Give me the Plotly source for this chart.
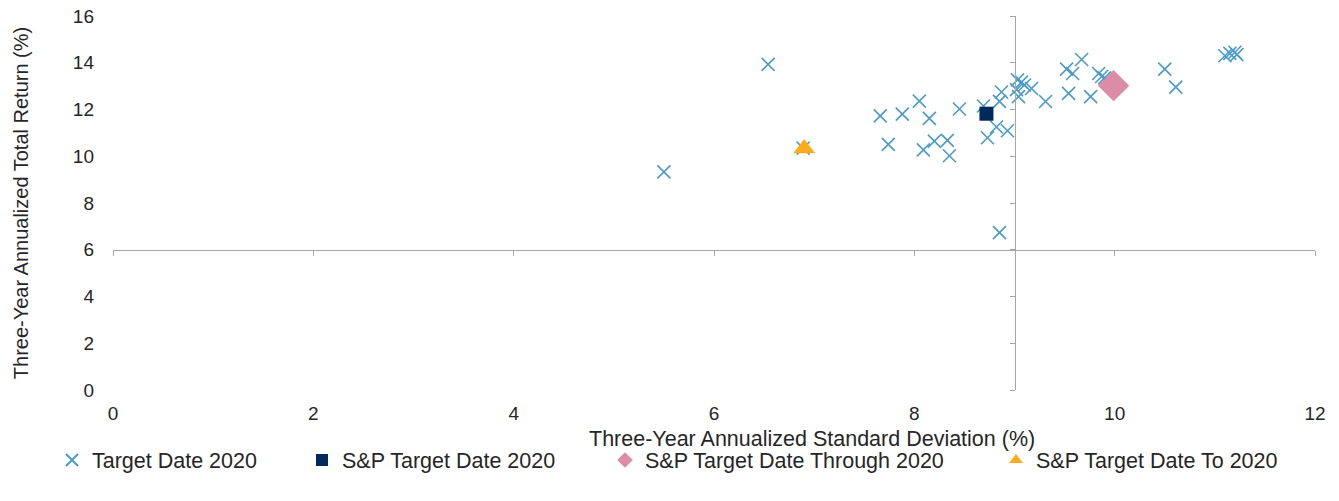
import plotly.graph_objects as go

# Target Date 2020 funds: (std dev %, total return %)
fund_sd = [6.54, 5.50, 6.89, 7.66, 7.88, 8.05, 8.15, 7.74, 8.09, 8.20, 8.33, 8.35, 8.45,
           8.69, 8.73, 8.82, 8.93, 8.85, 8.87, 8.85, 9.03, 9.07, 9.10, 9.02, 9.04, 9.17,
           9.31, 9.52, 9.58, 9.54, 9.67, 9.76, 9.84, 9.87, 9.90, 10.50, 10.61,
           11.10, 11.15, 11.20, 11.22]
fund_ret = [13.93, 9.33, 10.35, 11.73, 11.80, 12.36, 11.62, 10.51, 10.27, 10.65, 10.68, 10.02, 12.02,
            12.15, 10.79, 11.25, 11.09, 12.35, 12.75, 6.73, 13.27, 13.17, 13.05, 12.85, 12.55, 12.90,
            12.34, 13.73, 13.54, 12.69, 14.14, 12.55, 13.54, 13.41, 13.35, 13.73, 12.96,
            14.30, 14.40, 14.45, 14.35]

idx_names = ["S&P Target Date 2020", "S&P Target Date Through 2020", "S&P Target Date To 2020"]
idx_sd = [8.72, 9.99, 6.90]
idx_ret = [11.82, 13.02, 10.33]

x_ticks = [0, 2, 4, 6, 8, 10, 12]
y_ticks = [0, 2, 4, 6, 8, 10, 12, 14, 16]

x_title = "Three-Year Annualized Standard Deviation (%)"
y_title = "Three-Year Annualized Total Return (%)"

FONT = "Liberation Sans, Arial, sans-serif"
TXT = "#262626"
AXC = "#a6a6a6"

fig = go.Figure()

fig.add_trace(go.Scatter(
    x=fund_sd, y=fund_ret, mode="markers", name="Target Date 2020",
    marker=dict(symbol="x-thin", size=13, color="#4b9ac9",
                line=dict(color="#4b9ac9", width=1.6)),
    legend="legend"))

styles = [
    dict(symbol="square", size=14, color="#002a5c", legend="legend2"),
    dict(symbol="diamond", size=24, color="#db8ca6", legend="legend3"),
    dict(symbol="triangle-up", size=19, color="#ffab1a", legend="legend4"),
]
for n, xs, ys, st in zip(idx_names, idx_sd, idx_ret, styles):
    fig.add_trace(go.Scatter(
        x=[xs], y=[ys], mode="markers", name=n,
        marker=dict(symbol=st["symbol"], size=st["size"], color=st["color"],
                    line=dict(width=0)),
        legend=st["legend"]))

# invisible trace to carry the crossing axes
fig.add_trace(go.Scatter(x=[0, 12], y=[0, 16], xaxis="x2", yaxis="y2", mode="markers",
                         marker=dict(opacity=0), showlegend=False, hoverinfo="skip"))

PL, PR, PT, PB = 113, 1315, 16, 390  # plot area in page pixels
W, H = 1339, 501
L, T = PL, PT
R = W - PR
B = H - PB
pw = PR - PL
ph = PB - PT

def lx(px):
    return (px - PL) / pw

def ly(py):
    return (PB - py) / ph

leg_common = dict(orientation="h", yanchor="middle", y=ly(460), xanchor="left",
                  font=dict(family=FONT, size=21.5, color=TXT), bgcolor="rgba(0,0,0,0)",
                  itemsizing="constant", itemwidth=30, tracegroupgap=0)

fig.update_layout(
    width=W, height=H,
    margin=dict(l=L, r=R, t=T, b=B, autoexpand=False),
    plot_bgcolor="white", paper_bgcolor="white",
    font=dict(family=FONT, size=19, color=TXT),
    xaxis=dict(range=[0, 12], tickvals=x_ticks, ticktext=[str(v) for v in x_ticks],
               showline=False, showgrid=False, zeroline=False, ticks="",
               ticklabelstandoff=10, ticklabeloverflow="allow",
               automargin=False, fixedrange=True),
    yaxis=dict(range=[0, 16], tickvals=y_ticks, ticktext=[str(v) for v in y_ticks],
               showline=False, showgrid=False, zeroline=False, ticks="",
               ticklabelstandoff=18, ticklabeloverflow="allow",
               title=dict(text=y_title, standoff=38, font=dict(size=20, color=TXT)),
               automargin=False, fixedrange=True),
    xaxis2=dict(range=[0, 12], overlaying="x", anchor="free", position=6 / 16,
                tickvals=x_ticks, showticklabels=False, showline=True, linecolor=AXC,
                linewidth=1, ticks="outside", ticklen=5, tickcolor=AXC, tickwidth=1,
                showgrid=False, zeroline=False, fixedrange=True),
    yaxis2=dict(range=[0, 16], overlaying="y", anchor="free", position=9 / 12, side="left",
                tickvals=y_ticks, showticklabels=False, showline=True, linecolor=AXC,
                linewidth=1, ticks="outside", ticklen=5, tickcolor=AXC, tickwidth=1,
                showgrid=False, zeroline=False, fixedrange=True),
    legend=dict(x=lx(92 - 40), **leg_common),
    legend2=dict(x=lx(342 - 40), **leg_common),
    legend3=dict(x=lx(645 - 40), **leg_common),
    legend4=dict(x=lx(1036 - 40), **leg_common),
    annotations=[dict(text=x_title, xref="paper", yref="paper", x=lx(811.5), y=ly(439),
                      xanchor="center", yanchor="middle", showarrow=False,
                      font=dict(family=FONT, size=21.5, color=TXT))],
)

fig.write_html("out.html", config={"displayModeBar": False},
               post_script="document.body.style.margin='0';document.body.style.overflow='hidden';")
